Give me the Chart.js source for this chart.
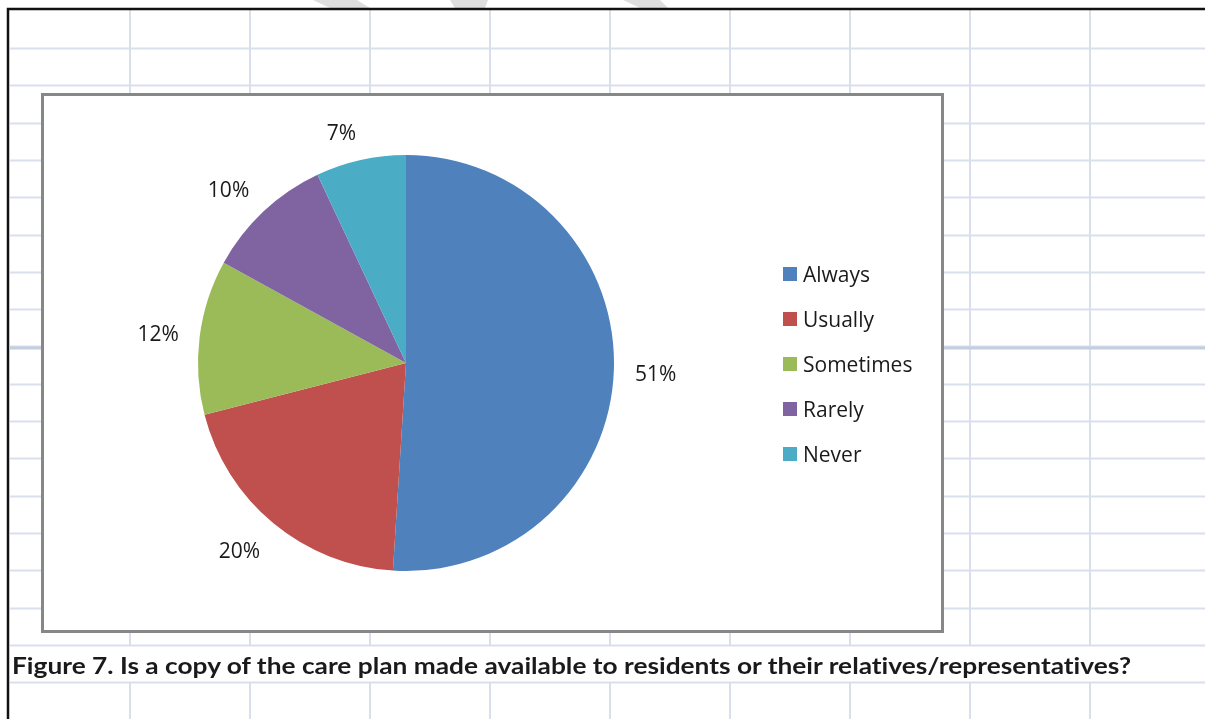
<!DOCTYPE html>
<html>
<head>
<meta charset="utf-8">
<script src="https://cdn.jsdelivr.net/npm/chart.js@4/dist/chart.umd.min.js"></script>
<style>
  html, body { margin: 0; padding: 0; background: #fff; overflow: hidden; }
  #sheet { position: absolute; left: 0; top: 0; }
  #box {
    position: absolute; left: 41px; top: 93px;
    width: 897px; height: 534px;
    border: 3px solid #878787; background: #fff;
  }
  #pieWrap { position: absolute; left: 0; top: 0; width: 897px; height: 534px; }
  #legend { position: absolute; left: 0; top: 0; }
  .item { position: absolute; left: 783px; height: 30px; font: 21px "Open Sans", sans-serif; color: #1a1a1a; white-space: nowrap; }
  .item i { position: absolute; left: 0; top: 0; width: 14px; height: 14px; }
  .item span { position: absolute; left: 20px; top: -8px; line-height: 30px; }
  #caption {
    position: absolute; left: 12px; top: 651px;
    font: bold 23px Lato, sans-serif; color: #1a1a1a;
    font-variant-ligatures: none;
    white-space: nowrap; transform-origin: 0 0;
  }
</style>
</head>
<body>
<canvas id="sheet" width="1205" height="719"></canvas>
<div id="box"><div id="pieWrap"><canvas id="pie"></canvas></div></div>
<div id="legend"></div>
<div id="caption">Figure 7. Is a copy of the care plan made available to residents or their relatives/representatives?</div>
<script>
// answers and their share of responses (%)
const answers = ['Always', 'Usually', 'Sometimes', 'Rarely', 'Never'];
const shares = [51, 20, 12, 10, 7];
const sliceColors = ['#4F81BD', '#C0504D', '#9BBB59', '#8064A2', '#4BACC6'];

// spreadsheet backdrop: gridlines, frame, faint watermark bits
function drawSheet() {
  const c = document.getElementById('sheet');
  const g = c.getContext('2d');
  g.fillStyle = '#fff';
  g.fillRect(0, 0, 1205, 719);

  // watermark fragments peeking in at the top
  g.fillStyle = '#dedede';
  [[313, 357, 370, 330], [450, 488, 485, 455], [623, 660, 668, 640]].forEach(p => {
    g.beginPath();
    g.moveTo(p[0], 0); g.lineTo(p[1], 0); g.lineTo(p[2], 8); g.lineTo(p[3], 8);
    g.closePath(); g.fill();
  });

  g.strokeStyle = '#d9dfeb';
  g.lineWidth = 2;
  // horizontal gridlines
  for (let k = 0; k < 18; k++) {
    const y = Math.round(48 + 37.3 * k) + 0.5;
    g.beginPath(); g.moveTo(10, y); g.lineTo(1205, y); g.stroke();
  }
  // vertical gridlines (hidden behind the caption row)
  for (let x = 130; x < 1205; x += 120) {
    g.beginPath(); g.moveTo(x, 10); g.lineTo(x, 645); g.stroke();
    g.beginPath(); g.moveTo(x, 683); g.lineTo(x, 719); g.stroke();
  }
  // page break line
  g.strokeStyle = '#c5cde0';
  g.lineWidth = 3;
  g.beginPath(); g.moveTo(10, 348); g.lineTo(1205, 348); g.stroke();

  // black frame on top and left
  g.strokeStyle = '#111';
  g.lineWidth = 2.5;
  g.beginPath(); g.moveTo(8, 719); g.lineTo(8, 9); g.lineTo(1205, 9); g.stroke();
}
drawSheet();

// legend
const legend = document.getElementById('legend');
answers.forEach((a, i) => {
  const d = document.createElement('div');
  d.className = 'item';
  d.style.top = (267 + 45 * i) + 'px';
  d.innerHTML = `<i style="background:${sliceColors[i]}"></i><span>${a}</span>`;
  legend.appendChild(d);
});

// caption width
const cap = document.getElementById('caption');
cap.style.transform = `scaleX(${1119 / cap.getBoundingClientRect().width})`;

// percent labels: the text box hangs off a point just outside the rim,
// on the side facing away from the pie
const outsideLabels = {
  id: 'outsideLabels',
  afterDatasetsDraw(chart) {
    const ctx = chart.ctx;
    const meta = chart.getDatasetMeta(0);
    const clamp = v => Math.max(-1, Math.min(1, v));
    ctx.save();
    ctx.font = '21px "Open Sans", sans-serif';
    ctx.fillStyle = '#1a1a1a';
    ctx.textAlign = 'center';
    ctx.textBaseline = 'middle';
    meta.data.forEach((arc, i) => {
      const p = arc.getProps(['x', 'y', 'startAngle', 'endAngle', 'outerRadius'], true);
      const mid = (p.startAngle + p.endAngle) / 2;
      const cos = Math.cos(mid), sin = Math.sin(mid);
      const text = shares[i] + '%';
      const hw = ctx.measureText(text).width / 2, hh = 9;
      const r = p.outerRadius + 21;
      const ax = p.x + cos * r, ay = p.y + sin * r;
      ctx.fillText(text, ax + hw * clamp(cos / 0.2), ay + hh * clamp(sin / 0.3) + 4);
    });
    ctx.restore();
  }
};

new Chart(document.getElementById('pie'), {
  type: 'pie',
  data: {
    labels: answers,
    datasets: [{
      data: shares,
      backgroundColor: sliceColors,
      borderWidth: 0
    }]
  },
  options: {
    responsive: true,
    maintainAspectRatio: false,
    animation: false,
    layout: { padding: { left: 154, right: 327, top: 59, bottom: 59 } },
    plugins: { legend: { display: false }, tooltip: { enabled: false } }
  },
  plugins: [outsideLabels]
});
</script>
</body>
</html>
